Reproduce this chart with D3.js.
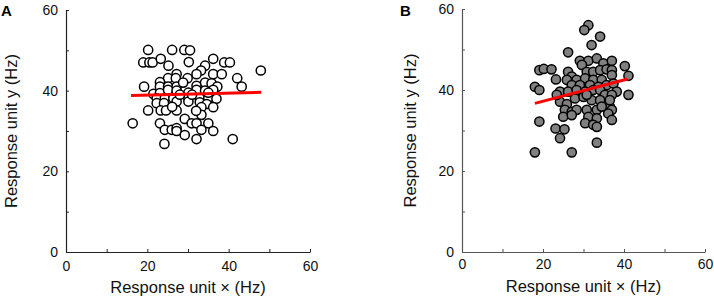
<!DOCTYPE html>
<html>
<head>
<meta charset="utf-8">
<script src="https://cdn.jsdelivr.net/npm/d3@7"></script>
<style>
  body { margin: 0; background: #fff; }
  svg text { font-family: "Liberation Sans", Arial, sans-serif; }
</style>
</head>
<body>
<svg id="chart" width="714" height="299"></svg>
<script>
// panel A: open circles
let xA = [20.2,26.1,29.1,30.5,19.0,20.5,21.3,23.3,30.2,25.2,36.2,38.9,40.3,34.2,33.2,32.1,36.2,38.3,27.2,25.1,
  23.1,27.0,29.9,42.1,47.9,19.2,23.1,25.1,27.2,28.8,32.1,34.2,35.8,37.2,43.2,21.5,23.1,25.1,27.2,30.1,
  32.1,34.2,36.2,22.3,24.3,26.4,30.1,32.9,35.0,37.0,22.3,24.1,27.2,30.1,32.9,34.6,20.2,23.3,24.6,27.2,
  33.3,36.2,33.3,16.4,23.1,29.2,30.9,32.1,35.0,24.3,26.0,27.2,27.2,33.3,36.2,29.2,32.1,41.0,24.2,
  28.0,31.0,35.0,26.1,32.0];
let yA = [50.1,50.1,50.1,50.0,47.0,47.0,47.0,47.9,47.1,46.2,47.9,47.0,47.0,46.2,45.0,44.1,44.1,44.1,44.1,43.1,
  42.1,43.1,43.1,43.1,45.0,41.0,41.0,41.0,41.0,42.0,41.2,42.0,41.8,41.0,41.0,39.2,39.4,40.2,40.0,39.5,
  40.2,40.0,40.2,38.1,38.1,38.1,38.1,38.1,38.1,38.0,36.9,36.9,37.3,37.3,37.1,36.7,35.1,35.1,35.1,35.1,
  35.9,35.9,34.0,31.9,31.9,33.0,31.9,31.9,31.9,30.3,30.3,30.7,30.0,30.3,30.0,29.0,28.0,28.0,26.8,
  39.0,39.0,39.5,36.0,35.0];
let fitXA = [16, 48];
let fitYA = [38.8, 39.6];

// panel B: grey filled circles
let xB = [31.2,30.2,34.1,32.0,26.2,19.1,20.2,22.1,23.2,18.0,19.1,19.1,23.1,25.3,24.2,18.0,27.1,33.3,
  29.1,31.2,33.3,34.9,37.0,40.2,29.6,30.8,32.4,34.1,35.7,37.0,41.1,26.2,27.1,28.3,30.4,32.4,34.5,37.0,
  25.9,27.1,29.1,31.6,33.7,35.7,37.4,38.2,41.1,24.2,26.2,28.3,30.4,32.4,34.1,35.3,37.0,24.2,25.9,27.9,
  30.0,32.0,34.1,36.5,36.5,25.4,27.1,28.3,30.8,33.3,37.0,25.0,27.1,31.2,33.3,36.1,37.0,30.4,32.4,33.3,
  23.4,30.8,34.5];
let yB = [56.0,54.8,53.2,51.1,49.3,44.9,45.2,45.1,42.6,40.8,40.0,32.2,30.5,30.3,28.1,24.6,24.6,27.0,
  47.2,47.2,47.8,46.6,47.2,45.9,46.2,44.5,44.5,44.9,45.1,44.9,43.5,44.5,43.3,42.5,42.9,42.5,42.5,43.7,
  42.5,41.2,41.2,41.2,40.8,41.2,41.6,39.6,38.8,39.6,39.6,40.0,39.6,40.0,40.0,38.8,38.8,37.1,36.5,37.9,
  38.3,37.5,37.5,35.9,37.5,35.1,34.6,35.1,35.1,35.1,35.1,33.4,33.8,33.4,33.0,34.2,32.6,31.8,31.4,30.9,
  38.8,38.8,35.9];
let fitXB = [18, 40.9];
let fitYB = [36.7, 42.7];

let tickVals = [0, 10, 20, 30, 40, 50, 60];

let svg = d3.select("#chart");

function drawPanel(opts) {
    let x = d3.scaleLinear().domain([0, 60]).range([opts.left, opts.right]);
    let y = d3.scaleLinear().domain([0, 60]).range([opts.bottom, opts.top]);
    let g = svg.append("g");

    let fmt = d => (d % 20 === 0 ? d : "");

    let xAxis = g.append("g")
        .attr("transform", `translate(0,${opts.bottom})`)
        .call(d3.axisBottom(x).tickValues(tickVals).tickFormat(fmt)
              .tickSizeInner(-3).tickSizeOuter(0).tickPadding(opts.xPad));
    let yAxis = g.append("g")
        .attr("transform", `translate(${opts.left},0)`)
        .call(d3.axisLeft(y).tickValues(tickVals).tickFormat(fmt)
              .tickSizeInner(-3).tickSizeOuter(0).tickPadding(8));

    [xAxis, yAxis].forEach(a => {
        a.select(".domain").attr("stroke", opts.axisColor).attr("stroke-width", 1.2);
        a.selectAll(".tick line").attr("stroke", opts.axisColor);
        a.selectAll(".tick text").attr("fill", "#111").style("font-size", "14px");
    });

    let pts = opts.xs.map((v, i) => [v, opts.ys[i]]);
    g.selectAll("circle")
        .data(pts)
        .enter()
        .append("circle")
        .attr("cx", d => x(d[0]))
        .attr("cy", d => y(d[1]))
        .attr("r", 4.6)
        .attr("fill", opts.fill)
        .attr("stroke", "#000")
        .attr("stroke-width", 1.5);

    g.append("line")
        .attr("x1", x(opts.fitX[0])).attr("y1", y(opts.fitY[0]))
        .attr("x2", x(opts.fitX[1])).attr("y2", y(opts.fitY[1]))
        .attr("stroke", "#ff0000")
        .attr("stroke-width", 3);

    g.append("text")
        .attr("x", (opts.left + opts.right) / 2)
        .attr("y", opts.xTitleY)
        .attr("text-anchor", "middle")
        .style("font-size", "16.5px")
        .attr("fill", "#111")
        .text("Response unit \u00d7 (Hz)");

    g.append("text")
        .attr("transform", `translate(${opts.yTitleX},${(opts.top + opts.bottom) / 2}) rotate(-90)`)
        .attr("text-anchor", "middle")
        .style("font-size", "16.5px")
        .attr("fill", "#111")
        .text("Response unit y (Hz)");

    g.append("text")
        .attr("x", opts.labelX)
        .attr("y", 16)
        .style("font-size", "15px")
        .style("font-weight", "bold")
        .text(opts.label);
}

drawPanel({
    label: "A", labelX: 1,
    left: 66, right: 310, top: 10, bottom: 252,
    xs: xA, ys: yA, fitX: fitXA, fitY: fitYA,
    fill: "#fff", axisColor: "#222",
    xPad: 9, xTitleY: 293, yTitleX: 17
});

drawPanel({
    label: "B", labelX: 400,
    left: 462, right: 705, top: 9, bottom: 252,
    xs: xB, ys: yB, fitX: fitXB, fitY: fitYB,
    fill: "#808080", axisColor: "#555",
    xPad: 7, xTitleY: 292, yTitleX: 416
});
</script>
</body>
</html>
